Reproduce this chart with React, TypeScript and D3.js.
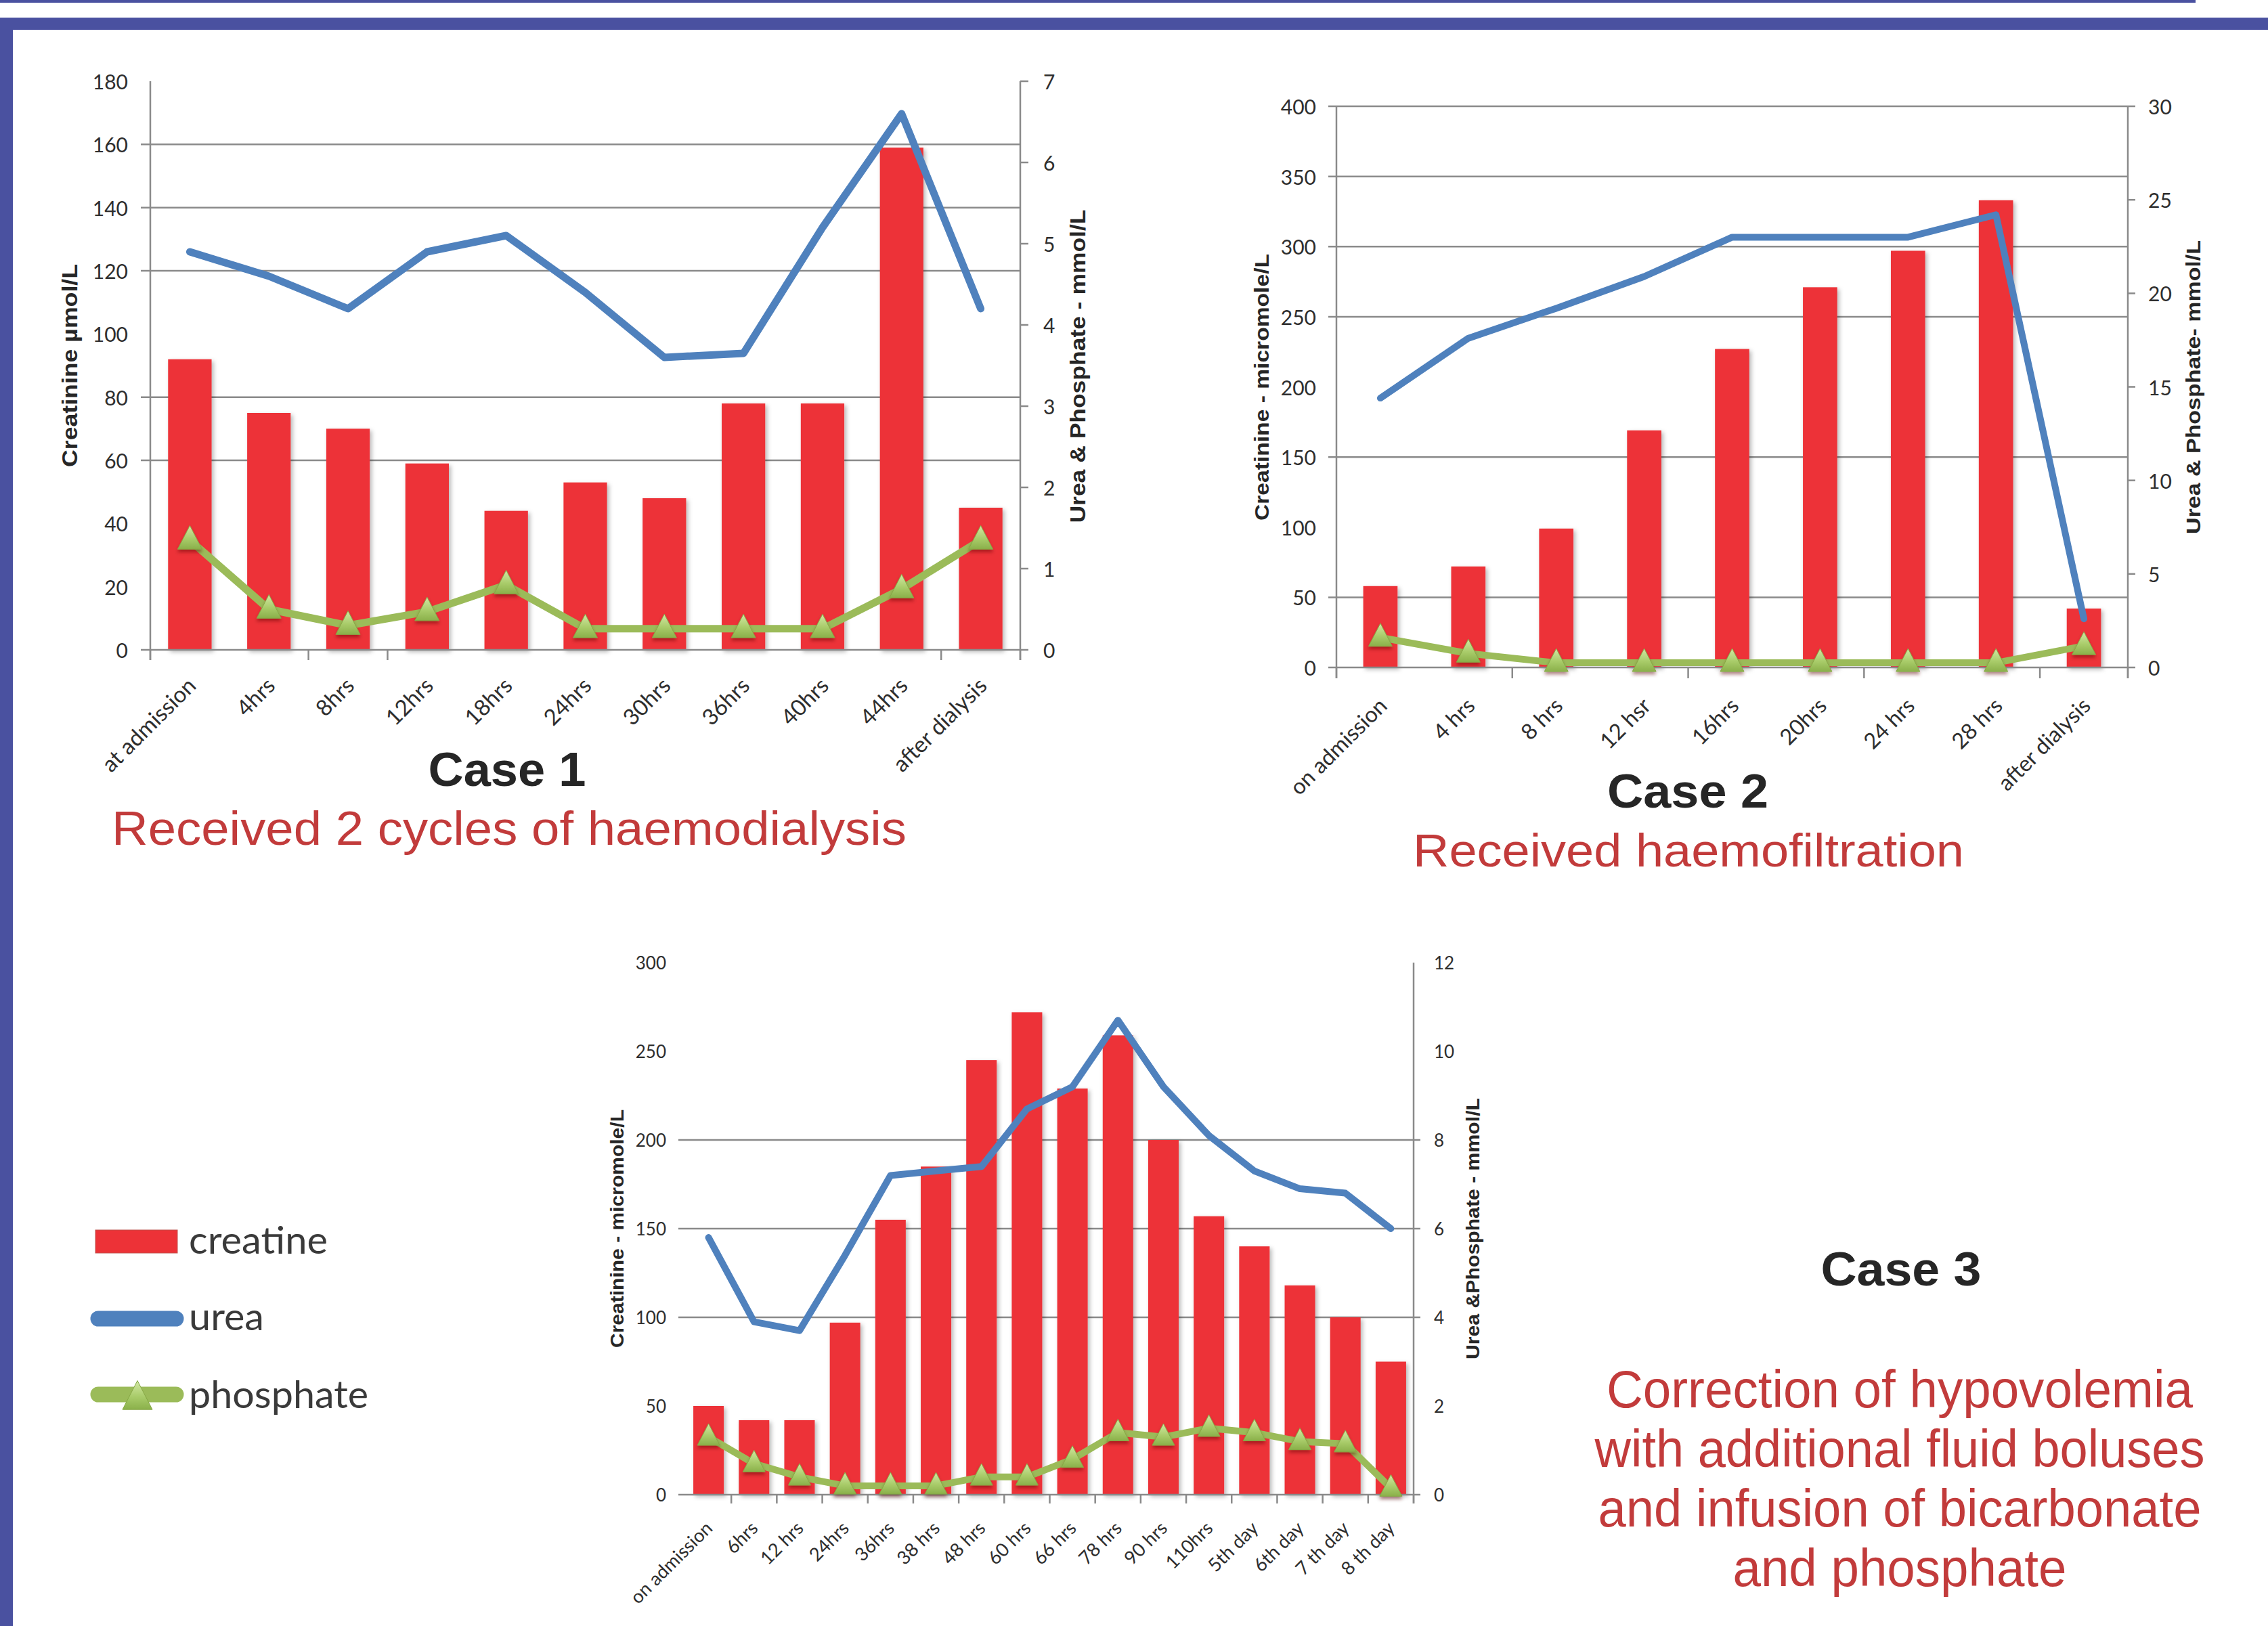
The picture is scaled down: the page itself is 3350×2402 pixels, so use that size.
import React, { useEffect } from "react";
import * as d3 from "d3";

// ---------------- DATA ----------------
const case1Categories = ["at admission", "4hrs", "8hrs", "12hrs", "18hrs", "24hrs", "30hrs", "36hrs", "40hrs", "44hrs", "after dialysis"];
const case1Creatinine = [92, 75, 70, 59, 44, 53, 48, 78, 78, 159, 45];
const case1Urea = [4.9, 4.6, 4.2, 4.9, 5.1, 4.4, 3.6, 3.65, 5.2, 6.6, 4.2];
const case1Phosphate = [1.35, 0.5, 0.3, 0.47, 0.8, 0.26, 0.26, 0.26, 0.26, 0.75, 1.35];
const case1LeftTicks = [0, 20, 40, 60, 80, 100, 120, 140, 160, 180];
const case1RightTicks = [0, 1, 2, 3, 4, 5, 6, 7];
const case1Gridlines = [60, 80, 120, 140, 160];
const case1RightMarks = [0, 1, 2, 3, 4, 5, 6, 7];
const case1XMarks = [0, 2, 3, 10, 11];

const case2Categories = ["on admission", "4 hrs", "8 hrs", "12 hsr", "16hrs", "20hrs", "24 hrs", "28 hrs", "after dialysis"];
const case2Creatinine = [58, 72, 99, 169, 227, 271, 297, 333, 42];
const case2Urea = [14.4, 17.6, 19.2, 20.9, 23.0, 23.0, 23.0, 24.2, 2.6];
const case2Phosphate = [1.6, 0.75, 0.25, 0.25, 0.25, 0.25, 0.25, 0.25, 1.15];
const case2LeftTicks = [0, 50, 100, 150, 200, 250, 300, 350, 400];
const case2RightTicks = [0, 5, 10, 15, 20, 25, 30];
const case2Gridlines = [50, 150, 250, 300, 350, 400];
const case2RightMarks = [0, 5, 10, 15, 20, 25, 30];
const case2XMarks = [0, 2, 4, 6, 8, 9];

const case3Categories = ["on admission", "6hrs", "12 hrs", "24hrs", "36hrs", "38 hrs", "48 hrs", "60 hrs", "66 hrs", "78 hrs", "90 hrs", "110hrs", "5th day", "6th day", "7 th day", "8 th day"];
const case3Creatinine = [50, 42, 42, 97, 155, 185, 245, 272, 229, 259, 200, 157, 140, 118, 100, 75];
const case3Urea = [5.8, 3.9, 3.7, 5.4, 7.2, 7.3, 7.4, 8.7, 9.2, 10.7, 9.2, 8.1, 7.3, 6.9, 6.8, 6.0];
const case3Phosphate = [1.3, 0.7, 0.4, 0.2, 0.2, 0.2, 0.4, 0.4, 0.8, 1.4, 1.3, 1.5, 1.4, 1.2, 1.15, 0.15];
const case3LeftTicks = [0, 50, 100, 150, 200, 250, 300];
const case3RightTicks = [0, 2, 4, 6, 8, 10, 12];
const case3Gridlines = [100, 150, 200];
const case3RightMarks = [0, 4, 6, 8];
const case3XMarks = [1, 2, 3, 4, 5, 6, 7, 8, 9, 10, 11, 12, 13, 14, 15, 16];

const legendLabels = ["creatine", "urea", "phosphate"];
const case3Note = ["Correction of hypovolemia", "with additional fluid boluses", "and infusion of bicarbonate", "and phosphate"];

// ---------------- STYLE ----------------
const RED = "#ED3237";
const BLUE = "#4F81BD";
const GREEN = "#9BBB59";
const GRID = "#8a8a8a";
const TEXT = "#2e2e2e";
const NOTE = "#C23B3B";
const FRAME = "#4A51A0";
const TICKFONT = "Lato, 'Open Sans', sans-serif";
const ARIAL = "'Liberation Sans', Arial, sans-serif";

type Spec = {
  left: number; right: number; top: number; bottom: number;
  barRatio: number; tickFont: number; xFont: number; lineW: number; tri: number;
  gridExt: number; rTick: number; axisDown: number; xDx: number; xDy: number;
  leftLabelX: number; rightLabelX: number; showLeftAxis: boolean;
  leftTitle: { x: number; y: number; len: number; text: string };
  rightTitle: { x: number; y: number; len: number; text: string };
  titleFont: number;
};

const spec1: Spec = {
  left: 222, right: 1507, top: 120, bottom: 960, barRatio: 0.55, tickFont: 30, xFont: 33,
  lineW: 11, tri: 36, gridExt: 14, rTick: 12, axisDown: 15, xDx: 2, xDy: 46,
  leftLabelX: 189, rightLabelX: 1541, showLeftAxis: true,
  leftTitle: { x: 103, y: 540, len: 300, text: "Creatinine µmol/L" },
  rightTitle: { x: 1592, y: 541, len: 463, text: "Urea & Phosphate - mmol/L" },
  titleFont: 31,
};
const spec2: Spec = {
  left: 1974, right: 3143, top: 157, bottom: 986, barRatio: 0.39, tickFont: 30, xFont: 32.5,
  lineW: 10, tri: 35, gridExt: 12, rTick: 11, axisDown: 16, xDx: 3, xDy: 50,
  leftLabelX: 1944, rightLabelX: 3173, showLeftAxis: true,
  leftTitle: { x: 1864, y: 572, len: 394, text: "Creatinine - micromole/L" },
  rightTitle: { x: 3240, y: 572, len: 434, text: "Urea & Phosphate- mmol/L" },
  titleFont: 29,
};
const spec3: Spec = {
  left: 1013, right: 2088, top: 1422, bottom: 2208, barRatio: 0.67, tickFont: 26, xFont: 27.5,
  lineW: 10, tri: 33, gridExt: 11, rTick: 10, axisDown: 13, xDx: 0, xDy: 44,
  leftLabelX: 984, rightLabelX: 2118, showLeftAxis: false,
  leftTitle: { x: 912, y: 1815, len: 352, text: "Creatinine - micromole/L" },
  rightTitle: { x: 2176, y: 1815, len: 386, text: "Urea &Phosphate - mmol/L" },
  titleFont: 27,
};

function triPath(w: number) {
  const h = w * 0.97;
  return `M0,${-h * 0.62}L${w / 2},${h * 0.38}L${-w / 2},${h * 0.38}Z`;
}

type ChartProps = {
  s: Spec; cats: string[]; cre: number[]; urea: number[]; phos: number[];
  lTicks: number[]; rTicks: number[]; grid: number[]; rMarks: number[]; xMarks: number[];
};

function ComboChart({ s, cats, cre, urea, phos, lTicks, rTicks, grid, rMarks, xMarks }: ChartProps) {
  const x = d3.scaleBand<string>().domain(cats).range([s.left, s.right]).paddingInner(0).paddingOuter(0);
  const yL = d3.scaleLinear().domain([0, d3.max(lTicks) as number]).range([s.bottom, s.top]);
  const yR = d3.scaleLinear().domain([0, d3.max(rTicks) as number]).range([s.bottom, s.top]);
  const cx = (i: number) => (x(cats[i]) as number) + x.bandwidth() / 2;
  const bw = x.bandwidth() * s.barRatio;
  const line = d3.line<number>().x((_, i) => cx(i)).y((d) => yR(d));
  const tri = triPath(s.tri);

  return (
    <g>
      {grid.map((v) => (
        <line key={"g" + v} x1={s.left - s.gridExt} x2={s.right} y1={yL(v)} y2={yL(v)} stroke={GRID} strokeWidth={2.5} />
      ))}
      {cre.map((v, i) => (
        <rect key={"b" + i} x={cx(i) - bw / 2} y={yL(v)} width={bw} height={s.bottom - yL(v)} fill={RED} filter="url(#barShadow)" />
      ))}
      {/* axes */}
      <line x1={s.left - s.gridExt} x2={s.right} y1={s.bottom} y2={s.bottom} stroke={GRID} strokeWidth={2.5} />
      {s.showLeftAxis && <line x1={s.left} x2={s.left} y1={s.top} y2={s.bottom + s.axisDown} stroke={GRID} strokeWidth={2.5} />}
      <line x1={s.right} x2={s.right} y1={s.top} y2={s.bottom + s.axisDown} stroke={GRID} strokeWidth={2.5} />
      {rMarks.map((v) => (
        <line key={"rm" + v} x1={s.right} x2={s.right + s.rTick} y1={yR(v)} y2={yR(v)} stroke={GRID} strokeWidth={2.5} />
      ))}
      {xMarks.map((i) => (
        <line key={"xm" + i} x1={s.left + i * x.step()} x2={s.left + i * x.step()} y1={s.bottom} y2={s.bottom + s.axisDown} stroke={GRID} strokeWidth={2.5} />
      ))}
      {/* lines */}
      <path d={line(urea) as string} fill="none" stroke={BLUE} strokeWidth={s.lineW} strokeLinejoin="round" strokeLinecap="round" />
      <path d={line(phos) as string} fill="none" stroke={GREEN} strokeWidth={s.lineW} strokeLinejoin="round" strokeLinecap="round" />
      {phos.map((v, i) => (
        <path key={"t" + i} d={tri} transform={`translate(${cx(i)},${yR(v)})`} fill="url(#triGrad)" stroke="#86A845" strokeWidth={1} filter="url(#triShadow)" />
      ))}
      {/* tick labels */}
      {lTicks.map((v) => (
        <text key={"lt" + v} x={s.leftLabelX} y={yL(v)} textAnchor="end" dominantBaseline="central" fontFamily={TICKFONT} fontSize={s.tickFont} fill={TEXT}>{v}</text>
      ))}
      {rTicks.map((v) => (
        <text key={"rt" + v} x={s.rightLabelX} y={yR(v)} textAnchor="start" dominantBaseline="central" fontFamily={TICKFONT} fontSize={s.tickFont} fill={TEXT}>{v}</text>
      ))}
      {cats.map((c, i) => (
        <text key={"xl" + i} transform={`translate(${cx(i) + s.xDx},${s.bottom + s.xDy}) rotate(-45)`} textAnchor="end" dominantBaseline="central" fontFamily={TICKFONT} fontSize={s.xFont} fill={TEXT}>{c}</text>
      ))}
      {/* axis titles */}
      <text transform={`translate(${s.leftTitle.x},${s.leftTitle.y}) rotate(-90)`} textAnchor="middle" dominantBaseline="central" fontFamily={ARIAL} fontWeight="bold" fontSize={s.titleFont} fill="#262626" textLength={s.leftTitle.len} lengthAdjust="spacingAndGlyphs">{s.leftTitle.text}</text>
      <text transform={`translate(${s.rightTitle.x},${s.rightTitle.y}) rotate(-90)`} textAnchor="middle" dominantBaseline="central" fontFamily={ARIAL} fontWeight="bold" fontSize={s.titleFont} fill="#262626" textLength={s.rightTitle.len} lengthAdjust="spacingAndGlyphs">{s.rightTitle.text}</text>
    </g>
  );
}

function CaseText({ x, y, text, len, size, bold, color }: { x: number; y: number; text: string; len: number; size: number; bold?: boolean; color: string }) {
  return (
    <text x={x} y={y} textAnchor="middle" fontFamily={ARIAL} fontWeight={bold ? "bold" : "normal"} fontSize={size} fill={color} textLength={len} lengthAdjust="spacingAndGlyphs">{text}</text>
  );
}

export default function App() {
  useEffect(() => {
    document.body.style.margin = "0";
  }, []);
  const W = 3350, H = 2402;
  const legendTri = triPath(44);
  return (
    <svg width={W} height={H} viewBox={`0 0 ${W} ${H}`} style={{ position: "absolute", left: 0, top: 0, background: "#fff" }}>
      <defs>
        <filter id="barShadow" x="-20%" y="-5%" width="140%" height="115%">
          <feDropShadow dx="3" dy="3" stdDeviation="3" floodColor="#000" floodOpacity="0.28" />
        </filter>
        <filter id="triShadow" x="-40%" y="-40%" width="180%" height="200%">
          <feDropShadow dx="0" dy="4" stdDeviation="2.5" floodColor="#5a0000" floodOpacity="0.45" />
        </filter>
        <linearGradient id="triGrad" x1="0" y1="0" x2="0" y2="1">
          <stop offset="0" stopColor="#D3E8A6" />
          <stop offset="0.55" stopColor="#A9CC6A" />
          <stop offset="1" stopColor="#8AB04A" />
        </linearGradient>
      </defs>
      <rect x={0} y={0} width={W} height={H} fill="#fff" />
      {/* frame */}
      <rect x={0} y={0} width={3243} height={4} fill={FRAME} />
      <rect x={0} y={26} width={W} height={18} fill={FRAME} />
      <rect x={0} y={26} width={19} height={H - 26} fill={FRAME} />

      <ComboChart s={spec1} cats={case1Categories} cre={case1Creatinine} urea={case1Urea} phos={case1Phosphate}
        lTicks={case1LeftTicks} rTicks={case1RightTicks} grid={case1Gridlines} rMarks={case1RightMarks} xMarks={case1XMarks} />
      <ComboChart s={spec2} cats={case2Categories} cre={case2Creatinine} urea={case2Urea} phos={case2Phosphate}
        lTicks={case2LeftTicks} rTicks={case2RightTicks} grid={case2Gridlines} rMarks={case2RightMarks} xMarks={case2XMarks} />
      <ComboChart s={spec3} cats={case3Categories} cre={case3Creatinine} urea={case3Urea} phos={case3Phosphate}
        lTicks={case3LeftTicks} rTicks={case3RightTicks} grid={case3Gridlines} rMarks={case3RightMarks} xMarks={case3XMarks} />

      {/* case captions */}
      <CaseText x={749} y={1161} text="Case 1" len={233} size={70} bold color="#262626" />
      <CaseText x={752} y={1248} text="Received 2 cycles of haemodialysis" len={1174} size={70} color={NOTE} />
      <CaseText x={2493} y={1193} text="Case 2" len={238} size={70} bold color="#262626" />
      <CaseText x={2494} y={1280} text="Received haemofiltration" len={814} size={68} color={NOTE} />
      <CaseText x={2808} y={1899} text="Case 3" len={237} size={70} bold color="#262626" />
      {case3Note.map((t, i) => (
        <CaseText key={t} x={2806} y={2079 + i * 88} text={t} len={[866, 901, 891, 493][i]} size={78} color={NOTE} />
      ))}

      {/* legend */}
      <rect x={141} y={1817} width={121} height={34} fill={RED} stroke="#c0504d" strokeWidth={1} />
      <line x1={145} x2={260} y1={1948} y2={1948} stroke={BLUE} strokeWidth={23} strokeLinecap="round" />
      <line x1={145} x2={260} y1={2060} y2={2060} stroke={GREEN} strokeWidth={23} strokeLinecap="round" />
      <path d={legendTri} transform="translate(203,2066)" fill="url(#triGrad)" stroke="#86A845" strokeWidth={1} />
      {legendLabels.map((t, i) => (
        <text key={t} x={279} y={[1852, 1965, 2080][i]} fontFamily={TICKFONT} fontSize={56} fill="#3a3a3a" textLength={[205, 111, 265][i]} lengthAdjust="spacingAndGlyphs">{t}</text>
      ))}
    </svg>
  );
}
